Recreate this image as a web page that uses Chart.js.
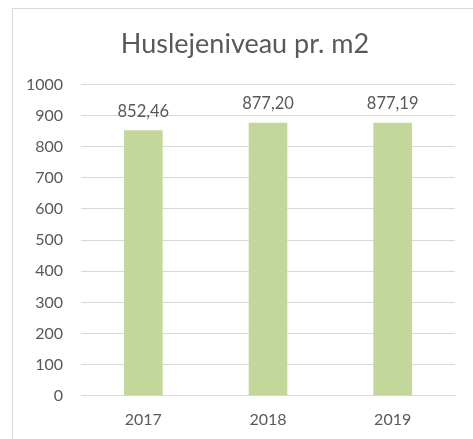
<!DOCTYPE html>
<html>
<head>
<meta charset="utf-8">
<script src="https://cdn.jsdelivr.net/npm/chart.js@4/dist/chart.umd.min.js"></script>
<style>
  html, body { margin: 0; padding: 0; background: #fff; overflow: hidden; }
  #frame {
    position: absolute; left: 12px; top: 8px; width: 480px; height: 450px;
    border-left: 1px solid #d9d9d9; border-top: 1px solid #d9d9d9;
  }
  #chart { position: absolute; left: 0; top: 0; }
</style>
</head>
<body>
<div id="frame"></div>
<canvas id="chart" width="473" height="439"></canvas>
<script>
const years = ["2017", "2018", "2019"];
const rentLevel = [852.46, 877.20, 877.19];
const yTicks = [0, 100, 200, 300, 400, 500, 600, 700, 800, 900, 1000];

const textColor = "#595959";
const gridColor = "#d9d9d9";

// draw the value above each bar, danish style comma
const valueLabels = {
    id: "valueLabels",
    afterLayout(chart) {
        // center the title over the framed area, not the whole canvas
        if (chart.titleBlock) chart.titleBlock.left += 35;
    },
    afterDatasetsDraw(chart) {
        const ctx = chart.ctx;
        const meta = chart.getDatasetMeta(0);
        ctx.save();
        ctx.font = "16.5px Lato";
        ctx.fillStyle = textColor;
        ctx.textAlign = "center";
        ctx.textBaseline = "alphabetic";
        meta.data.forEach(function(bar, i) {
            const txt = rentLevel[i].toFixed(2).replace(".", ",");
            ctx.fillText(txt, bar.x, bar.y - 13.5);
        });
        ctx.restore();
    }
};

var ctx = document.getElementById("chart");
var myChart = new Chart(ctx, {
    type: "bar",
    data: {
        labels: years,
        datasets: [{
            label: "Huslejeniveau",
            data: rentLevel,
            backgroundColor: "#c4d79b",
            categoryPercentage: 1,
            barPercentage: 0.31
        }]
    },
    options: {
        responsive: false,
        animation: false,
        layout: { padding: { left: 0, right: 18, top: 0, bottom: 4 } },
        plugins: {
            legend: { display: false },
            tooltip: { enabled: false },
            title: {
                display: true,
                text: "Huslejeniveau pr. m2",
                color: textColor,
                font: { family: "Lato", size: 27, weight: "normal" },
                padding: { top: 28, bottom: 24 }
            }
        },
        scales: {
            y: {
                min: 0,
                max: 1000,
                afterBuildTicks: function(axis) {
                    axis.ticks = yTicks.map(v => ({ value: v }));
                },
                afterFit: function(axis) { axis.width = 81; },
                grid: { color: gridColor, drawTicks: false },
                border: { display: false },
                ticks: {
                    color: textColor,
                    font: { family: "Lato", size: 16 },
                    padding: 18,
                    callback: function(value) { return String(value); }
                }
            },
            x: {
                grid: { display: false },
                border: { color: gridColor },
                ticks: {
                    color: textColor,
                    font: { family: "Lato", size: 16 },
                    padding: 6
                }
            }
        }
    },
    plugins: [valueLabels]
});
</script>
</body>
</html>
